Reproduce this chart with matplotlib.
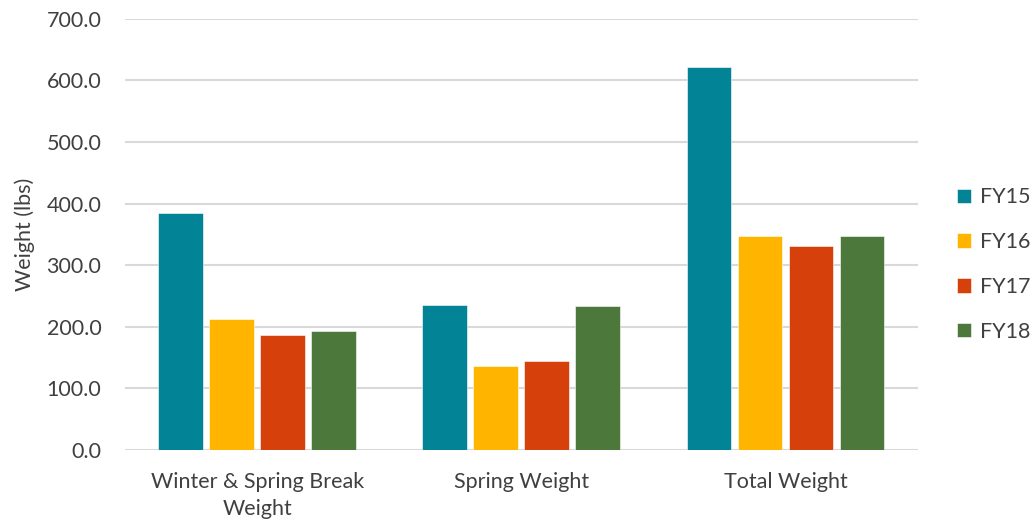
import matplotlib
matplotlib.use("Agg")
import matplotlib.pyplot as plt
import numpy as np

categories = ["Winter & Spring Break\nWeight", "Spring Weight", "Total Weight"]
series_names = ["FY15", "FY16", "FY17", "FY18"]
fy15 = [385.5, 236.0, 621.5]
fy16 = [212.8, 136.4, 347.6]
fy17 = [186.2, 144.6, 331.3]
fy18 = [192.7, 233.3, 347.6]
colors = ["#038496", "#FFB500", "#D6400B", "#4C783B"]
yticks = [0, 100, 200, 300, 400, 500, 600, 700]

plt.rcParams['font.family'] = ['Lato', 'DejaVu Sans']
text_color = "#404040"
fs = 15.5

fig = plt.figure(figsize=(10.36, 5.25), dpi=100)
ax = fig.add_axes([0.1207, 0.143, 0.765, 0.821])

x = np.arange(len(categories))
width = 0.17
step = 0.193
for i, (name, vals) in enumerate(zip(series_names, [fy15, fy16, fy17, fy18])):
    ax.bar(x + (i - 1.5) * step, vals, width, color=colors[i], label=name,
           edgecolor="white", linewidth=0.4, zorder=3)

ax.set_xlim(-0.5, 2.5)
ax.set_ylim(0, 700)
ax.set_yticks(yticks)
ax.set_yticklabels([f"{v:.1f}" for v in yticks], fontsize=fs, color=text_color)
ax.set_xticks(x)
ax.set_xticklabels(categories, fontsize=fs, color=text_color, linespacing=1.45)
ax.tick_params(axis='both', length=0)
ax.tick_params(axis='x', pad=16)
ax.tick_params(axis='y', pad=17)
ax.grid(axis='y', color="#d9d9d9", linewidth=1.5, zorder=0)
ax.set_axisbelow(True)
for s in ax.spines.values():
    s.set_visible(False)
ax.set_ylabel("Weight (lbs)", fontsize=fs, color=text_color, labelpad=8)

fig.legend(loc='center left', bbox_to_anchor=(0.905, 0.496), frameon=False,
           fontsize=fs, handlelength=0.65, handleheight=0.65, handletextpad=0.4,
           labelspacing=1.15, labelcolor=text_color)

fig.savefig("out.png", dpi=100)
